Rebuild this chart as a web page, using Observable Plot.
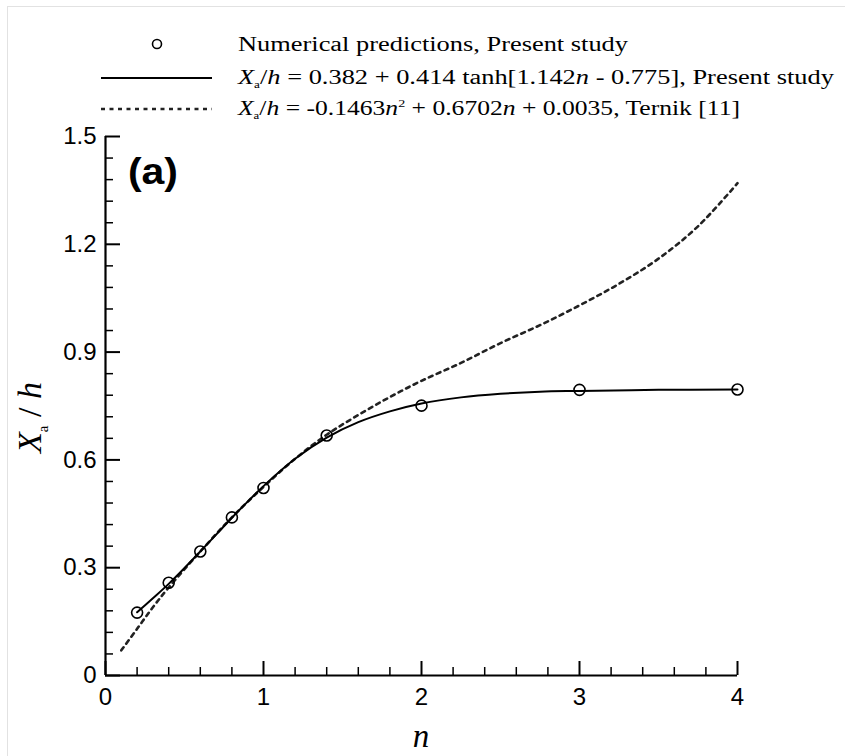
<!DOCTYPE html>
<html><head><meta charset="utf-8">
<script src="https://cdn.jsdelivr.net/npm/d3@7"></script>
<script src="https://cdn.jsdelivr.net/npm/@observablehq/plot@0.6"></script>
<style>
body{margin:0;background:#fff;}
#wrap{position:relative;width:845px;height:756px;overflow:hidden;background:#fff;}
#legend{display:block;}
#frame{position:absolute;left:7px;top:6px;width:900px;height:900px;border-left:1px solid #e2e2e2;border-top:1px solid #e2e2e2;pointer-events:none;}
.serif{font-family:"Liberation Serif","Times New Roman",serif;}
</style></head><body>
<div id="wrap"><svg id="legend" width="845" height="124"></svg><div id="chart"></div><div id="frame"></div></div>
<script>
// Numerical predictions (circles)
const pointN = [0.2, 0.4, 0.6, 0.8, 1.0, 1.4, 2, 3, 4];
const pointY = [0.175, 0.258, 0.345, 0.440, 0.522, 0.668, 0.751, 0.795, 0.796];
// Present study fit (solid)
const fitN = [0.2, 0.3, 0.4, 0.5, 0.6, 0.7, 0.8, 0.9, 1.0, 1.2, 1.4, 1.6, 1.8, 2.0, 2.25, 2.5, 2.75, 3.0, 3.5, 4.0];
const fitY = [0.176, 0.215, 0.255, 0.299, 0.345, 0.392, 0.439, 0.484, 0.527, 0.603, 0.662, 0.705, 0.735, 0.757, 0.774, 0.784, 0.790, 0.792, 0.795, 0.796];
// Ternik [11] (dashed)
const ternikN = [0.1, 0.2, 0.3, 0.4, 0.6, 0.8, 1.0, 1.2, 1.4, 1.6, 1.8, 2.0, 2.25, 2.5, 2.75, 3.0, 3.25, 3.5, 3.75, 4.0];
const ternikY = [0.07, 0.13, 0.19, 0.245, 0.345, 0.44, 0.525, 0.603, 0.67, 0.725, 0.775, 0.82, 0.87, 0.925, 0.975, 1.03, 1.09, 1.16, 1.25, 1.37];
// Ticks
const xMajor = [0, 1, 2, 3, 4];
const xTickLabels = ["0", "1", "2", "3", "4"];
const xMinor = [0.2, 0.4, 0.6, 0.8, 1.2, 1.4, 1.6, 1.8, 2.2, 2.4, 2.6, 2.8, 3.2, 3.4, 3.6, 3.8];
const yMajor = [0, 0.3, 0.6, 0.9, 1.2, 1.5];
const yTickLabels = ["0", "0.3", "0.6", "0.9", "1.2", "1.5"];
const yMinor = [0.06, 0.12, 0.18, 0.24, 0.36, 0.42, 0.48, 0.54, 0.66, 0.72, 0.78, 0.84, 0.96, 1.02, 1.08, 1.14, 1.26, 1.32, 1.38, 1.44];
// Texts
const legendLabels = ["Numerical predictions, Present study", "Present study", "Ternik [11]"];
const panelLabel = "(a)";
const xTitle = "n";

const points = pointN.map((n, i) => ({n, v: pointY[i]}));
const fit = fitN.map((n, i) => ({n, v: fitY[i]}));
const ternik = ternikN.map((n, i) => ({n, v: ternikY[i]}));
const xLab = new Map(xMajor.map((d, i) => [d, xTickLabels[i]]));
const yLab = new Map(yMajor.map((d, i) => [d, yTickLabels[i]]));

const plot = Plot.plot({
  width: 845, height: 632,
  marginLeft: 105, marginRight: 108, marginTop: 12, marginBottom: 81,
  x: {domain: [0, 4]},
  y: {domain: [0, 1.5]},
  style: {fontFamily: "'Liberation Sans', Arial, sans-serif", fontSize: "24px", color: "#000", background: "#fff", overflow: "visible"},
  marks: [
    Plot.axisX(xMinor, {tickSize: -8, tickFormat: () => "", strokeWidth: 1.5, label: null}),
    Plot.axisX(xMajor, {tickSize: -14, tickFormat: () => "", strokeWidth: 2, label: null}),
    Plot.axisX(xMajor, {tickSize: 0, tickPadding: 12, tickFormat: d => xLab.get(d), label: null, fontSize: 24}),
    Plot.axisY(yMinor, {tickSize: -8, tickFormat: () => "", strokeWidth: 1.5, label: null}),
    Plot.axisY(yMajor, {tickSize: -15, tickFormat: () => "", strokeWidth: 2, label: null}),
    Plot.axisY(yMajor, {tickSize: 0, tickPadding: 9, tickFormat: d => yLab.get(d), label: null, fontSize: 24}),
    Plot.ruleX([0], {strokeWidth: 2.2}),
    Plot.ruleY([0], {strokeWidth: 2.2}),
    Plot.line(ternik, {x: "n", y: "v", curve: "catmull-rom", stroke: "#222", strokeWidth: 2.6, strokeDasharray: "4,4.5"}),
    Plot.line(fit, {x: "n", y: "v", curve: "catmull-rom", stroke: "#000", strokeWidth: 2}),
    Plot.dot(points, {x: "n", y: "v", r: 5.5, stroke: "#000", strokeWidth: 1.6, fill: "none"})
  ]
});
document.getElementById("chart").appendChild(plot);

const svg = d3.select(plot);
const sx = plot.scale("x"), sy = plot.scale("y");
// panel label
svg.append("text").attr("x", sx.apply(0) + 48).attr("y", sy.apply(1.5) + 48)
  .attr("font-family", "'Liberation Sans', Arial, sans-serif").attr("font-weight", "bold")
  .attr("font-size", 36).attr("textLength", 50).attr("lengthAdjust", "spacingAndGlyphs")
  .attr("fill", "#000").text(panelLabel);
// x title
svg.append("text").attr("x", sx.apply(2)).attr("y", sy.apply(0) + 72)
  .attr("text-anchor", "middle").attr("class", "serif").attr("font-style", "italic")
  .attr("font-size", 33).attr("fill", "#000").text(xTitle);
// y title
const yt = svg.append("text").attr("transform", `translate(41,${(sy.apply(0) + sy.apply(1.5)) / 2 + 12}) rotate(-90)`)
  .attr("text-anchor", "middle").attr("class", "serif").attr("font-size", 34).attr("fill", "#000");
yt.append("tspan").attr("font-style", "italic").text("X");
yt.append("tspan").attr("font-size", 15).attr("dy", 7).text("a");
yt.append("tspan").attr("dy", -7).text(" / ");
yt.append("tspan").attr("font-style", "italic").text("h");

// legend
const lg = d3.select("#legend");
const fs = 20;
lg.append("circle").attr("cx", 157).attr("cy", 44).attr("r", 4.5).attr("fill", "none").attr("stroke", "#000").attr("stroke-width", 1.6);
lg.append("text").attr("class", "serif").attr("x", 238).attr("y", 51).attr("font-size", fs)
  .attr("textLength", 390).attr("lengthAdjust", "spacingAndGlyphs").text(legendLabels[0]);
lg.append("line").attr("x1", 101).attr("x2", 212).attr("y1", 78).attr("y2", 78).attr("stroke", "#000").attr("stroke-width", 2.2);
const t2 = lg.append("text").attr("class", "serif").attr("x", 238).attr("y", 84).attr("font-size", fs)
  .attr("textLength", 596).attr("lengthAdjust", "spacingAndGlyphs");
t2.append("tspan").attr("font-style", "italic").text("X");
t2.append("tspan").attr("font-size", 10).attr("dy", 4).text("a");
t2.append("tspan").attr("dy", -4).text("/");
t2.append("tspan").attr("font-style", "italic").text("h");
t2.append("tspan").text(" =  0.382 + 0.414 tanh[1.142");
t2.append("tspan").attr("font-style", "italic").text("n");
t2.append("tspan").text(" - 0.775], " + legendLabels[1]);
lg.append("line").attr("x1", 101).attr("x2", 212).attr("y1", 109).attr("y2", 109).attr("stroke", "#222").attr("stroke-width", 2.4).attr("stroke-dasharray", "4,4.5");
const t3 = lg.append("text").attr("class", "serif").attr("x", 238).attr("y", 115).attr("font-size", fs)
  .attr("textLength", 502).attr("lengthAdjust", "spacingAndGlyphs");
t3.append("tspan").attr("font-style", "italic").text("X");
t3.append("tspan").attr("font-size", 10).attr("dy", 4).text("a");
t3.append("tspan").attr("dy", -4).text("/");
t3.append("tspan").attr("font-style", "italic").text("h");
t3.append("tspan").text(" = -0.1463");
t3.append("tspan").attr("font-style", "italic").text("n");
t3.append("tspan").attr("font-size", 11).attr("dy", -8).text("2");
t3.append("tspan").attr("dy", 8).text(" + 0.6702");
t3.append("tspan").attr("font-style", "italic").text("n");
t3.append("tspan").text(" + 0.0035, " + legendLabels[2]);
</script>
</body></html>
